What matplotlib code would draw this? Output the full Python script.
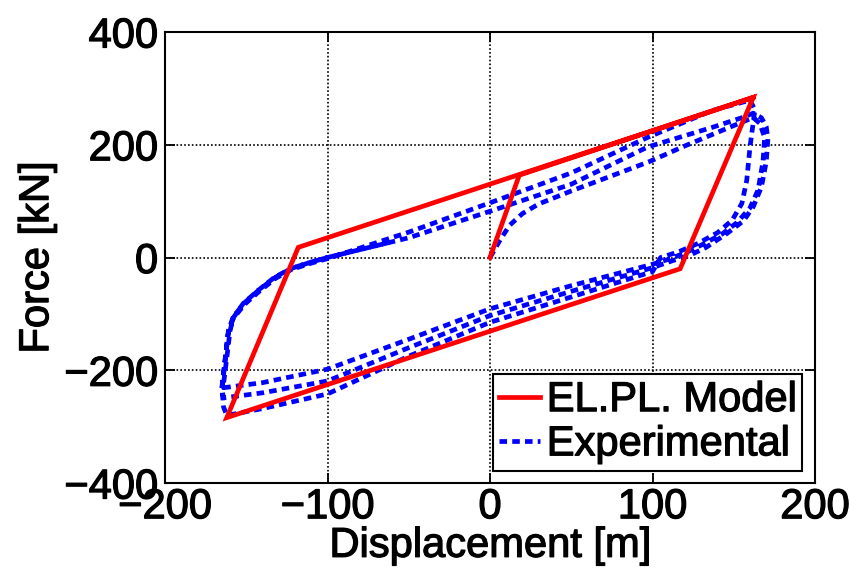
import matplotlib
matplotlib.use("Agg")
import matplotlib.pyplot as plt
import matplotlib.patheffects as pe
import numpy as np

plt.rcParams['font.family'] = ['Liberation Sans', 'DejaVu Sans']
FS = 30
# thicken glyphs a little so they read like the heavier print font
THICK = [pe.withStroke(linewidth=0.9, foreground='black')]

# elastic-perfectly-plastic model branch (displacement, force)
model_disp = [0, 18, 162, 117, -162, -118, 162]
model_force = [0, 146, 284, -20, -284, 18, 284]

# measured hysteresis, three cycles starting from the origin
exp_disp = [
    0, 6, 12, 20, 30, 50, 75, 98, 120, 140, 155, 162,
    166, 169, 168, 165, 160, 152, 143, 130, 120, 110,
    100, 50, 0, -50, -100, -140, -164,
    -164, -162, -160, -158, -152, -143, -133, -123, -111, -100,
    -50, 0, 50, 97, 137, 155, 162,
    167, 170, 171, 170, 167, 162, 156, 146, 133, 123, 113,
    100, 50, 0, -50, -100, -140, -164,
    -165, -163, -161, -158, -151, -142, -132, -122, -110, -100,
    -50, 0, 50, 97, 137, 160,
    163, 162, 160, 158, 155, 149, 140, 128, 116, 105,
    100, 50, 0, -50, -100, -140, -162,
    -164, -165, -163, -161, -158, -151, -142, -132, -122, -110, -100, -60,
]
exp_force = [
    0, 30, 57, 78, 95, 118, 145, 170, 198, 222, 240, 248,
    238, 213, 170, 120, 88, 62, 42, 22, 8, -3,
    -12, -50, -91, -145, -198, -222, -231,
    -224, -178, -130, -107, -82, -59, -36, -20, -9, 0,
    35, 82, 130, 196, 231, 248, 256,
    248, 232, 210, 170, 125, 90, 65, 43, 18, 4, -5,
    -18, -60, -103, -160, -219, -240, -249,
    -235, -182, -132, -108, -83, -60, -37, -21, -10, -2,
    45, 97, 150, 213, 261, 279,
    262, 240, 196, 137, 96, 66, 44, 25, 10, 0,
    -25, -70, -115, -175, -242, -268, -280,
    -265, -230, -180, -130, -105, -80, -57, -35, -19, -8, 0, 28,
]

x_ticks = [-200, -100, 0, 100, 200]
y_ticks = [-400, -200, 0, 200, 400]

fig = plt.figure(figsize=(8.56, 5.68), dpi=100)
ax = fig.add_axes([0.1928, 0.1496, 0.7593, 0.7941])

ax.plot(model_disp, model_force, color='#ff0000', lw=3.4,
        solid_joinstyle='miter', label='EL.PL. Model', zorder=3)
ax.plot(exp_disp, exp_force, color='#0000ff', lw=3.4,
        linestyle=(0, (1.6, 1.1)), dash_capstyle='butt',
        label='Experimental', zorder=2)

ax.set_xlim(-200, 200)
ax.set_ylim(-400, 400)
ax.set_xticks(x_ticks)
ax.set_yticks(y_ticks)
ax.grid(True, color='black', linestyle=(0, (1, 1.3)), linewidth=1.2)
ax.set_axisbelow(True)
ax.tick_params(direction='in', length=7, width=1.3, top=True, right=True,
               labelsize=FS, pad=3)
ax.tick_params(axis='y', pad=5)
for s in ax.spines.values():
    s.set_linewidth(1.5)

ax.set_xlabel('Displacement [m]', fontsize=FS, labelpad=-1)
ax.set_ylabel('Force [kN]', fontsize=FS)
ax.yaxis.set_label_coords(-0.166, 0.5)

leg = ax.legend(loc='lower right', fontsize=FS, handlelength=1.0,
                handletextpad=0.15, borderpad=0.15, labelspacing=0.1,
                borderaxespad=0.3, fancybox=False, framealpha=1)
leg.get_frame().set_edgecolor('black')
leg.get_frame().set_linewidth(1.5)

texts = ax.get_xticklabels() + ax.get_yticklabels() + leg.get_texts()
texts += [ax.xaxis.label, ax.yaxis.label]
for t in texts:
    t.set_path_effects(THICK)

fig.savefig('out.png', dpi=100)
